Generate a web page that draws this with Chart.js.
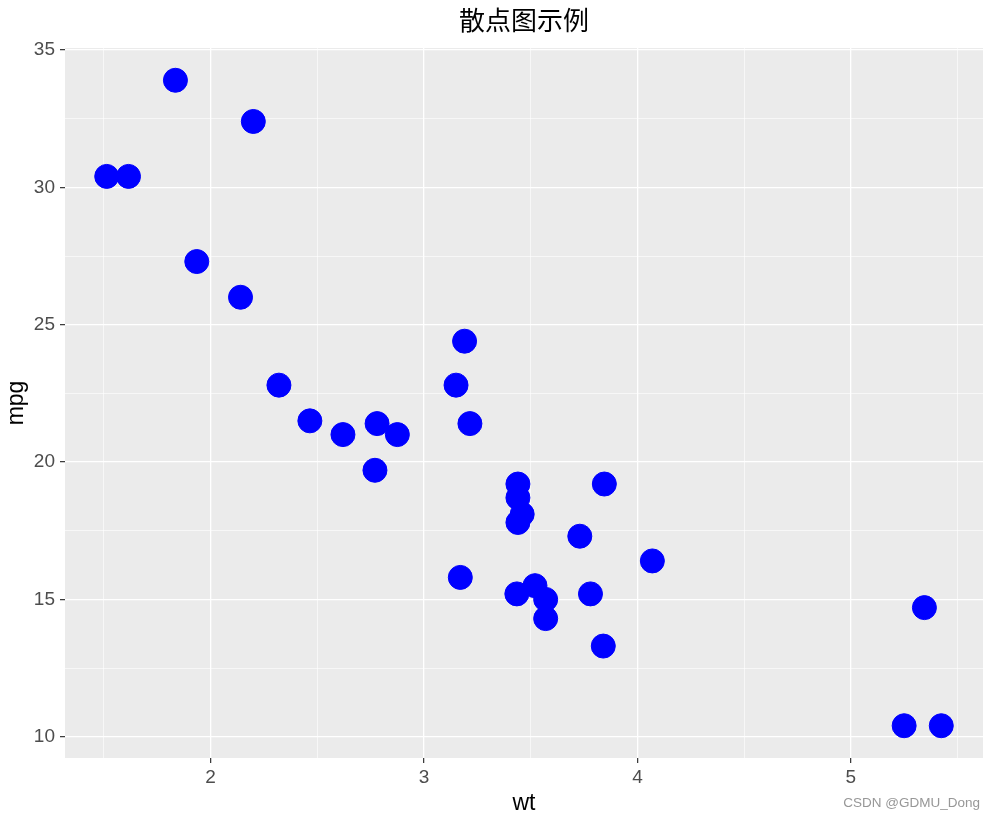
<!DOCTYPE html>
<html>
<head>
<meta charset="utf-8">
<script src="https://cdn.jsdelivr.net/npm/chart.js@4"></script>
<style>
  html, body { margin: 0; padding: 0; background: #ffffff; }
  #wrap { width: 996px; height: 820px; }
</style>
</head>
<body>
<div id="wrap"><canvas id="c" width="996" height="820"></canvas></div>
<script>
// mtcars: wt vs mpg
const wt  = [2.620, 2.875, 2.320, 3.215, 3.440, 3.460, 3.570, 3.190, 3.150, 3.440, 3.440, 4.070, 3.730, 3.780, 5.250, 5.424, 5.345, 2.200, 1.615, 1.835, 2.465, 3.520, 3.435, 3.840, 3.845, 1.935, 2.140, 1.513, 3.170, 2.770, 3.570, 2.780];
const mpg = [21.0, 21.0, 22.8, 21.4, 18.7, 18.1, 14.3, 24.4, 22.8, 19.2, 17.8, 16.4, 17.3, 15.2, 10.4, 10.4, 14.7, 32.4, 30.4, 33.9, 21.5, 15.5, 15.2, 13.3, 19.2, 27.3, 26.0, 30.4, 15.8, 19.7, 15.0, 21.4];

const xMajorTicks = [2, 3, 4, 5];
const xMinorTicks = [1.5, 2.5, 3.5, 4.5, 5.5];
const yMajorTicks = [10, 15, 20, 25, 30, 35];
const yMinorTicks = [12.5, 17.5, 22.5, 27.5, 32.5];

const titleText = '散点图示例';
const xTitle = 'wt';
const yTitle = 'mpg';
const watermark = 'CSDN @GDMU_Dong';

// ggplot-like 5% expansion of the data range
function expand(arr) {
  const mn = Math.min(...arr), mx = Math.max(...arr);
  const d = (mx - mn) * 0.05;
  return [mn - d, mx + d];
}
const [xMin, xMax] = expand(wt);
const [yMin, yMax] = expand(mpg);

const points = wt.map((w, i) => ({ x: w, y: mpg[i] }));

const panelBg = {
  id: 'panelBg',
  beforeDraw(chart) {
    const { ctx, chartArea: a } = chart;
    ctx.save();
    ctx.fillStyle = '#EBEBEB';
    ctx.fillRect(a.left, a.top, a.right - a.left, a.bottom - a.top);
    ctx.restore();
  },
  afterDraw(chart) {
    const { ctx, chartArea: a } = chart;
    ctx.save();
    ctx.fillStyle = '#000000';
    ctx.font = '26px "Noto Sans CJK SC"';
    ctx.textAlign = 'center';
    ctx.textBaseline = 'middle';
    ctx.fillText(titleText, (a.left + a.right) / 2, 20);
    ctx.fillStyle = 'rgba(140,140,140,0.9)';
    ctx.font = '13.5px "Liberation Sans", Arial, sans-serif';
    ctx.textAlign = 'right';
    ctx.textBaseline = 'alphabetic';
    ctx.fillText(watermark, 980, 807);
    ctx.restore();
  }
};

function buildTicks(major, minor) {
  return function (scale) {
    const vals = major.concat(minor).sort((a, b) => a - b);
    scale.ticks = vals.map(v => ({ value: v }));
  };
}
function isMajor(major, v) {
  return major.some(m => Math.abs(m - v) < 1e-9);
}

const tickFont = { family: '"Liberation Sans", Arial, sans-serif', size: 19 };
const titleFont = { family: '"Liberation Sans", Arial, sans-serif', size: 23 };

new Chart(document.getElementById('c'), {
  type: 'scatter',
  data: {
    datasets: [{
      data: points,
      backgroundColor: '#0000FF',
      borderColor: '#0000FF',
      borderWidth: 1,
      pointRadius: 12,
      pointHoverRadius: 12
    }]
  },
  plugins: [panelBg],
  options: {
    responsive: false,
    animation: false,
    devicePixelRatio: 1,
    layout: { padding: { top: 48, right: 9, bottom: 0, left: 0 } },
    plugins: {
      legend: { display: false },
      tooltip: { enabled: false },
      title: { display: false }
    },
    scales: {
      x: {
        type: 'linear',
        min: xMin,
        max: xMax,
        afterBuildTicks: buildTicks(xMajorTicks, xMinorTicks),
        afterFit(scale) { scale.height = 62; },
        border: { display: false },
        grid: {
          color: '#FFFFFF',
          lineWidth: ctx => isMajor(xMajorTicks, ctx.tick.value) ? 1.3 : 0.6,
          tickColor: ctx => isMajor(xMajorTicks, ctx.tick.value) ? '#333333' : 'rgba(0,0,0,0)',
          tickWidth: 1.2,
          tickLength: 5,
          drawTicks: true
        },
        ticks: {
          autoSkip: false,
          maxRotation: 0,
          padding: 3,
          color: '#4D4D4D',
          font: tickFont,
          callback: v => isMajor(xMajorTicks, v) ? String(v) : ''
        },
        title: {
          display: true,
          text: xTitle,
          color: '#000000',
          font: titleFont,
          padding: { top: 0, bottom: 3 }
        }
      },
      y: {
        type: 'linear',
        min: yMin,
        max: yMax,
        afterBuildTicks: buildTicks(yMajorTicks, yMinorTicks),
        afterFit(scale) { scale.width = 65; },
        border: { display: false },
        grid: {
          color: '#FFFFFF',
          lineWidth: ctx => isMajor(yMajorTicks, ctx.tick.value) ? 1.3 : 0.6,
          tickColor: ctx => isMajor(yMajorTicks, ctx.tick.value) ? '#333333' : 'rgba(0,0,0,0)',
          tickWidth: 1.2,
          tickLength: 5,
          drawTicks: true
        },
        ticks: {
          autoSkip: false,
          padding: 5,
          color: '#4D4D4D',
          font: tickFont,
          callback: v => isMajor(yMajorTicks, v) ? String(v) : ''
        },
        title: {
          display: true,
          text: yTitle,
          color: '#000000',
          font: titleFont,
          padding: { top: 3, bottom: 0 }
        }
      }
    }
  }
});
</script>
</body>
</html>
